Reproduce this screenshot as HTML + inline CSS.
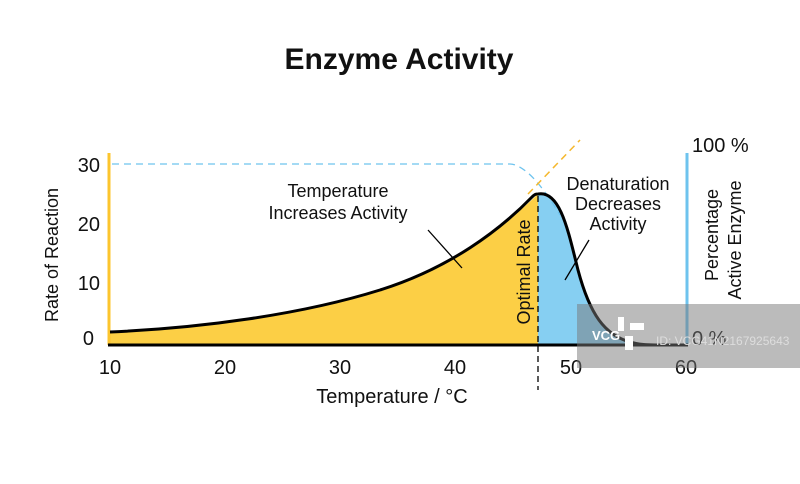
<!DOCTYPE html>
<html><head><meta charset="utf-8"><style>
body{margin:0;background:#fff;}
svg text{font-family:"Liberation Sans",Arial,sans-serif;fill:#111;}
</style></head><body>
<svg width="800" height="479" viewBox="0 0 800 479" xmlns="http://www.w3.org/2000/svg">
<rect width="800" height="479" fill="#fff"/>
<text x="399" y="69" font-size="30" font-weight="bold" text-anchor="middle">Enzyme Activity</text>
<path d="M110,332 C200,328 300,315 380,290 C450,268 500,230 538,194 L538,345 L110,345 Z" fill="#FCCF45"/>
<path d="M538,194 C560,190 568,230 578,270 C590,315 605,335 630,342 C640,345 650,345 660,345 L538,345 Z" fill="#86CFF2"/>
<path d="M112,164 L510,164 Q530,165 560,215" fill="none" stroke="#6EC3EE" stroke-width="1.3" stroke-dasharray="7,5"/>
<path d="M528,194 L580,140" fill="none" stroke="#F5B82E" stroke-width="1.5" stroke-dasharray="7,5"/>
<line x1="109" y1="153" x2="109" y2="345" stroke="#FCC52E" stroke-width="3"/>
<line x1="687" y1="153" x2="687" y2="345" stroke="#6EC3EE" stroke-width="3"/>
<line x1="108" y1="345" x2="688" y2="345" stroke="#000" stroke-width="3"/>
<path d="M110,332 C200,328 300,315 380,290 C450,268 500,230 532,197 C535,194 536,194 538,194 C560,190 568,230 578,270 C590,315 605,335 630,342 C640,345 650,345 660,345" fill="none" stroke="#000" stroke-width="3"/>
<line x1="538" y1="196" x2="538" y2="390" stroke="#000" stroke-width="1.3" stroke-dasharray="6,4"/>
<line x1="428" y1="230" x2="462" y2="268" stroke="#000" stroke-width="1.3"/>
<line x1="589" y1="240" x2="565" y2="280" stroke="#000" stroke-width="1.3"/>
<text x="338" y="197" font-size="18" text-anchor="middle">Temperature</text>
<text x="338" y="219" font-size="18" text-anchor="middle">Increases Activity</text>
<text x="618" y="190" font-size="18" text-anchor="middle">Denaturation</text>
<text x="618" y="210" font-size="18" text-anchor="middle">Decreases</text>
<text x="618" y="230" font-size="18" text-anchor="middle">Activity</text>
<text transform="translate(530,272) rotate(-90)" font-size="18" text-anchor="middle">Optimal Rate</text>
<text x="100" y="172" font-size="20" text-anchor="end">30</text>
<text x="100" y="231" font-size="20" text-anchor="end">20</text>
<text x="100" y="290" font-size="20" text-anchor="end">10</text>
<text x="94" y="345" font-size="20" text-anchor="end">0</text>
<text transform="translate(58,255) rotate(-90)" font-size="18" text-anchor="middle">Rate of Reaction</text>
<text x="110" y="374" font-size="20" text-anchor="middle">10</text>
<text x="225" y="374" font-size="20" text-anchor="middle">20</text>
<text x="340" y="374" font-size="20" text-anchor="middle">30</text>
<text x="455" y="374" font-size="20" text-anchor="middle">40</text>
<text x="571" y="374" font-size="20" text-anchor="middle">50</text>
<text x="686" y="374" font-size="20" text-anchor="middle">60</text>
<text x="392" y="403" font-size="20" text-anchor="middle">Temperature / °C</text>
<text x="692" y="152" font-size="20">100 %</text>
<text x="692" y="345" font-size="20">0 %</text>
<text transform="translate(718,235) rotate(-90)" font-size="18" text-anchor="middle">Percentage</text>
<text transform="translate(741,240) rotate(-90)" font-size="18" text-anchor="middle">Active Enzyme</text>
<rect x="577" y="304" width="223" height="64" fill="#777" opacity="0.5"/>
<text x="592" y="340" font-size="13" font-weight="bold" style="fill:#fff">VCG</text>
<text x="656" y="345" font-size="12" style="fill:#ddd">ID: VCG41N2167925643</text>
<g fill="#fff"><rect x="618" y="317" width="6" height="14"/><rect x="630" y="323" width="14" height="7"/><rect x="625" y="336" width="8" height="14"/></g>
</svg>
</body></html>
